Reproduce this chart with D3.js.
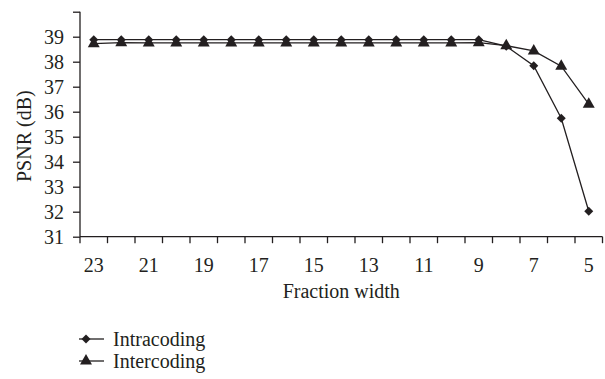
<!DOCTYPE html>
<html>
<head>
<meta charset="utf-8">
<script src="https://cdn.jsdelivr.net/npm/d3@7"></script>
<style>
  body { margin: 0; background: #fff; }
  text { font-family: "Liberation Serif", "DejaVu Serif", serif; fill: #231f20; }
</style>
</head>
<body>
<div id="chart"></div>
<script>
// Fraction widths on the x axis (descending, as in the figure)
const fractionWidths = [23, 22, 21, 20, 19, 18, 17, 16, 15, 14, 13, 12, 11, 10, 9, 8, 7, 6, 5];
const xTickLabels = [23, 21, 19, 17, 15, 13, 11, 9, 7, 5];
const yTicks = [31, 32, 33, 34, 35, 36, 37, 38, 39, 40];

// PSNR (dB)
const intracoding = [38.88, 38.88, 38.88, 38.88, 38.88, 38.88, 38.88, 38.88, 38.88, 38.88,
  38.88, 38.88, 38.88, 38.88, 38.88, 38.62, 37.84, 35.74, 32.02];
const intercoding = [38.72, 38.76, 38.75, 38.75, 38.75, 38.75, 38.75, 38.75, 38.75, 38.75,
  38.75, 38.75, 38.75, 38.75, 38.76, 38.64, 38.43, 37.82, 36.3];

const width = 605;
const height = 379;
const ink = "#231f20";
const fontSize = "20px";

const svg = d3.select("#chart")
  .append("svg")
  .attr("width", width)
  .attr("height", height);

// Scales
const x = d3.scaleBand()
  .domain(fractionWidths)
  .range([80, 602.5]);

const y = d3.scaleLinear()
  .domain([31, 40])
  .range([236.7, 11.7]);

const xc = (d) => x(d) + x.bandwidth() / 2;

// Y axis
const yAxis = svg.append("g")
  .attr("transform", `translate(${x.range()[0]},0)`)
  .call(d3.axisLeft(y)
    .tickValues(yTicks)
    .tickSize(7)
    .tickPadding(9)
    .tickFormat((d) => (d === 40 ? "" : d)));

// X axis: labels at band centres, ticks at band boundaries
const xAxis = svg.append("g")
  .attr("transform", `translate(0,${y(31)})`)
  .call(d3.axisBottom(x)
    .tickValues(xTickLabels)
    .tickSize(0)
    .tickPadding(21));

const boundaries = fractionWidths.map((d) => x(d)).concat([x.range()[1]]);
xAxis.selectAll("line.bound")
  .data(boundaries)
  .enter()
  .append("line")
  .attr("class", "bound")
  .attr("x1", (d) => d)
  .attr("x2", (d) => d)
  .attr("y1", 0)
  .attr("y2", 6.5);

[yAxis, xAxis].forEach((g) => {
  g.selectAll("path.domain").attr("stroke", ink).attr("stroke-width", 1.3);
  g.selectAll("line").attr("stroke", ink).attr("stroke-width", 1.3);
  g.selectAll("text")
    .attr("fill", ink)
    .style("font-family", "'Liberation Serif', serif")
    .style("font-size", fontSize);
});
xAxis.select("path.domain").attr("d", `M${x.range()[0]},0H${x.range()[1]}`);
yAxis.select("path.domain").attr("d", `M0,${y(31)}V${y(40)}`);

// Axis titles
svg.append("text")
  .attr("x", (x.range()[0] + x.range()[1]) / 2)
  .attr("y", 298)
  .attr("text-anchor", "middle")
  .style("font-size", fontSize)
  .text("Fraction width");

svg.append("text")
  .attr("transform", `translate(31,${(y(31) + y(40)) / 2 + 12}) rotate(-90)`)
  .attr("text-anchor", "middle")
  .style("font-size", fontSize)
  .text("PSNR (dB)");

// Series
const line = d3.line()
  .x((d, i) => xc(fractionWidths[i]))
  .y((d) => y(d));

const diamond = d3.symbol(d3.symbolSquare, 40);
const triangle = d3.symbol(d3.symbolTriangle, 62);

const series = [
  { name: "Intracoding", values: intracoding, symbol: diamond, rotate: 45 },
  { name: "Intercoding", values: intercoding, symbol: triangle, rotate: 0 }
];

series.forEach((s) => {
  svg.append("path")
    .datum(s.values)
    .attr("fill", "none")
    .attr("stroke", ink)
    .attr("stroke-width", 1.3)
    .attr("d", line);

  svg.append("g")
    .selectAll("path")
    .data(s.values)
    .enter()
    .append("path")
    .attr("d", s.symbol)
    .attr("fill", ink)
    .attr("transform", (d, i) => `translate(${xc(fractionWidths[i])},${y(d)}) rotate(${s.rotate})`);
});

// Legend
const legend = svg.selectAll("g.legend-item")
  .data(series)
  .enter()
  .append("g")
  .attr("class", "legend-item")
  .attr("transform", (d, i) => `translate(79,${339 + i * 22})`);

legend.append("line")
  .attr("x1", 0)
  .attr("x2", 25)
  .attr("stroke", ink)
  .attr("stroke-width", 1.3);

legend.append("path")
  .attr("d", (d) => d.symbol())
  .attr("fill", ink)
  .attr("transform", (d) => `translate(7,0) rotate(${d.rotate})`);

legend.append("text")
  .attr("x", 34)
  .attr("y", 7)
  .style("font-size", fontSize)
  .text((d) => d.name);
</script>
</body>
</html>
